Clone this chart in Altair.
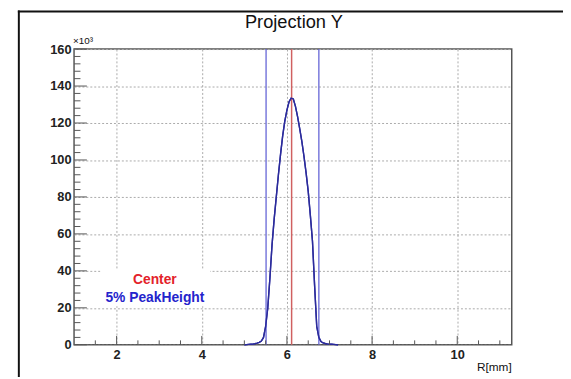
import altair as alt
import pandas as pd

# ---- data (y in units of 10^3) ----
r_mm = [5.00, 5.05, 5.10, 5.15, 5.20, 5.25, 5.30, 5.35, 5.40, 5.45,
        5.50, 5.55, 5.60, 5.65, 5.70, 5.75, 5.80, 5.85, 5.90, 5.95,
        6.00, 6.05, 6.10, 6.15, 6.20, 6.25, 6.30, 6.35, 6.40, 6.45,
        6.50, 6.55, 6.60, 6.65, 6.70, 6.75, 6.80, 6.85, 6.90, 6.95,
        7.00, 7.05, 7.10, 7.15, 7.20]
counts_k = [0.0, 0.1, 0.2, 0.3, 0.4, 0.6, 0.9, 1.3, 2.0, 4.0,
            10.0, 20.0, 36.0, 54.0, 68.0, 80.0, 92.0, 103.0, 113.0, 121.0,
            127.0, 131.5, 133.5, 133.0, 129.0, 123.5, 117.0, 110.0, 102.0, 93.0,
            83.0, 70.0, 56.0, 32.0, 10.0, 4.0, 1.8, 1.0, 0.7, 0.5,
            0.4, 0.3, 0.2, 0.1, 0.0]

center_line = [6.11]
peak5_lines = [5.51, 6.75]

x_major = [2, 4, 6, 8, 10]
x_minor = [1.5, 2.5, 3, 3.5, 4.5, 5, 5.5, 6.5, 7, 7.5, 8.5, 9, 9.5, 10.5, 11]
y_major = [0, 20, 40, 60, 80, 100, 120, 140, 160]
y_minor = [4, 8, 12, 16, 24, 28, 32, 36, 44, 48, 52, 56, 64, 68, 72, 76,
           84, 88, 92, 96, 104, 108, 112, 116, 124, 128, 132, 136,
           144, 148, 152, 156]

title_text = "Projection Y"
x_title = "R[mm]"
y_exp = "×10³"
legend_labels = ["Center", "5% PeakHeight"]

X_DOMAIN = [1, 11.28]
Y_DOMAIN = [0, 160]
W, H = 444, 300
FONT = "Liberation Sans"

xs = alt.Scale(domain=X_DOMAIN, nice=False, zero=False)
ys = alt.Scale(domain=Y_DOMAIN, nice=False, zero=False)

curve_df = pd.DataFrame({"r": r_mm, "c": counts_k})

axis_x = alt.Axis(values=x_major, grid=True, gridDash=[2, 2], gridColor="#aaaaaa",
                  gridWidth=1, ticks=False, domain=False, labelPadding=4,
                  labelFont=FONT, labelFontSize=13, labelFontWeight="bold",
                  labelColor="#222", title=None, format="d")
axis_y = alt.Axis(values=y_major, grid=True, gridDash=[2, 2], gridColor="#aaaaaa",
                  gridWidth=1, ticks=False, domain=False, labelPadding=3,
                  labelFont=FONT, labelFontSize=13, labelFontWeight="bold",
                  labelColor="#222", title=None, format="d")

curve = alt.Chart(curve_df).mark_line(color="#2b2b9c", strokeWidth=1.4).encode(
    x=alt.X("r:Q", scale=xs, axis=axis_x),
    y=alt.Y("c:Q", scale=ys, axis=axis_y),
)

# white legend box (covers grid)
legend_box = alt.Chart(pd.DataFrame({"a": [0]})).mark_rect(color="white").encode(
    x=alt.value(27), x2=alt.value(138), y=alt.value(224), y2=alt.value(261)
)

vl_blue = alt.Chart(pd.DataFrame({"v": peak5_lines})).mark_rule(
    color="#6464d6", strokeWidth=1.3).encode(
    x=alt.X("v:Q", scale=xs, axis=axis_x), y=alt.value(0), y2=alt.value(H))
vl_red = alt.Chart(pd.DataFrame({"v": center_line})).mark_rule(
    color="#d06060", strokeWidth=1.5).encode(
    x=alt.X("v:Q", scale=xs, axis=axis_x), y=alt.value(0), y2=alt.value(H))

tick_color = "#555"
xmaj = alt.Chart(pd.DataFrame({"v": x_major})).mark_rule(color=tick_color).encode(
    x=alt.X("v:Q", scale=xs, axis=axis_x), y=alt.value(H), y2=alt.value(H - 9))
xmin = alt.Chart(pd.DataFrame({"v": x_minor})).mark_rule(color=tick_color).encode(
    x=alt.X("v:Q", scale=xs, axis=axis_x), y=alt.value(H), y2=alt.value(H - 4.5))
ymaj = alt.Chart(pd.DataFrame({"v": y_major})).mark_rule(color=tick_color).encode(
    y=alt.Y("v:Q", scale=ys, axis=axis_y), x=alt.value(0), x2=alt.value(13))
ymin = alt.Chart(pd.DataFrame({"v": y_minor})).mark_rule(color=tick_color).encode(
    y=alt.Y("v:Q", scale=ys, axis=axis_y), x=alt.value(0), x2=alt.value(6.5))

def label(text, x, y, size, color="#111", weight="normal", align="center"):
    return alt.Chart(pd.DataFrame({"t": [text]})).mark_text(
        font=FONT, fontSize=size, color=color, fontWeight=weight,
        align=align, baseline="middle").encode(
        text="t:N", x=alt.value(x), y=alt.value(y))

title = label(title_text, 223, -27, 18.5)
xt = label(x_title, W, H + 23, 12, align="right")
yexp = label(y_exp, -1, -8, 10, align="left")
leg1 = label(legend_labels[0], 82, 234, 14, color="#e3222a", weight="bold")
leg2 = label(legend_labels[1], 82, 253, 14, color="#2424cc", weight="bold")

# canvas border (left and top)
border_l = alt.Chart(pd.DataFrame({"a": [0]})).mark_rule(color="#111", strokeWidth=2).encode(
    x=alt.value(-56), y=alt.value(-39), y2=alt.value(H + 40))
border_t = alt.Chart(pd.DataFrame({"a": [0]})).mark_rule(color="#111", strokeWidth=2).encode(
    x=alt.value(-57), x2=alt.value(W + 60), y=alt.value(-38))

chart = alt.layer(
    legend_box, curve, vl_blue, vl_red, curve, xmaj, xmin, ymaj, ymin,
    title, xt, yexp, leg1, leg2, border_l, border_t
).properties(
    width=W, height=H,
    autosize=alt.AutoSizeParams(type="none"),
    padding={"left": 67, "top": 39, "right": 52, "bottom": 30},
    background="white",
).configure_view(stroke="#555", strokeWidth=1.5)

chart.save("out.html", embed_options={"renderer": "svg", "actions": False})
